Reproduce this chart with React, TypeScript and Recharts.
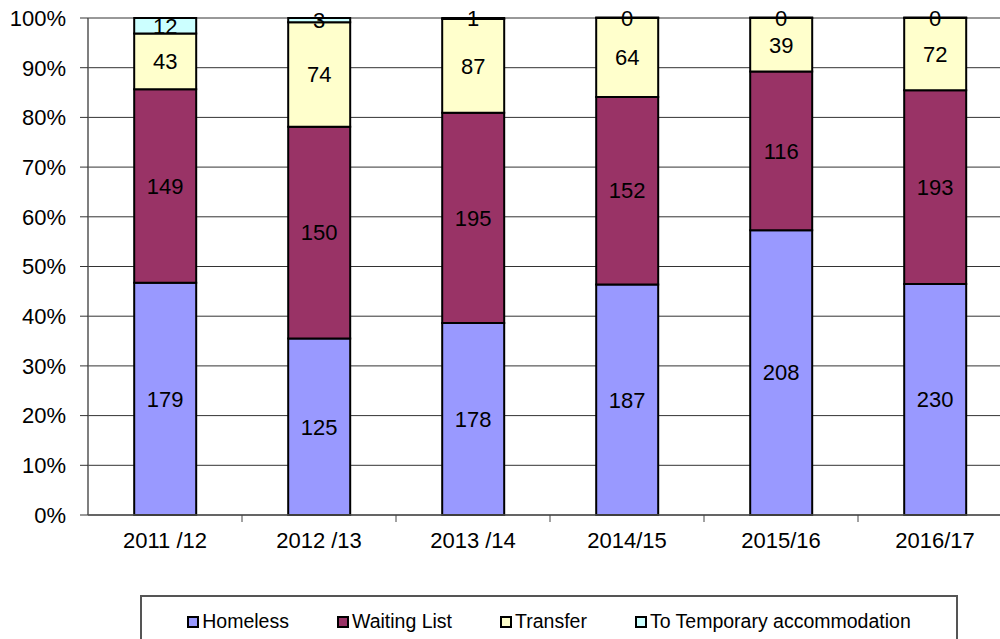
import React from 'react';
import {
  BarChart,
  Bar,
  XAxis,
  YAxis,
  CartesianGrid,
  LabelList,
} from 'recharts';

const CATEGORIES = ['2011 /12', '2012 /13', '2013 /14', '2014/15', '2015/16', '2016/17'];
const HOMELESS = [179, 125, 178, 187, 208, 230];
const WAITING_LIST = [149, 150, 195, 152, 116, 193];
const TRANSFER = [43, 74, 87, 64, 39, 72];
const TEMPORARY = [12, 3, 1, 0, 0, 0];
const Y_TICKS = [0, 0.1, 0.2, 0.3, 0.4, 0.5, 0.6, 0.7, 0.8, 0.9, 1];

const SERIES = [
  { key: 'homeless', name: 'Homeless', color: '#9999FF', values: HOMELESS },
  { key: 'waiting', name: 'Waiting List', color: '#993366', values: WAITING_LIST },
  { key: 'transfer', name: 'Transfer', color: '#FFFFCC', values: TRANSFER },
  { key: 'temporary', name: 'To Temporary accommodation', color: '#CCFFFF', values: TEMPORARY },
];

const data = CATEGORIES.map((name, i) => {
  const row: Record<string, string | number> = { name };
  SERIES.forEach((s) => {
    row[s.key] = s.values[i];
  });
  return row;
});

const FONT = '"Liberation Sans", Arial, sans-serif';
const CHART_W = 1020;
const MARGIN = { top: 18, right: 8, left: 0, bottom: 0 };
const Y_AXIS_W = 88;
const HALF_BAND = (CHART_W - MARGIN.right - MARGIN.left - Y_AXIS_W) / CATEGORIES.length / 2;

const XTick = (props: any) => {
  const { x, y, payload } = props;
  return (
    <g>
      <line x1={x + HALF_BAND} x2={x + HALF_BAND} y1={y} y2={y + 7} stroke="#444" strokeWidth={1} />
      <text x={x} y={y + 33} textAnchor="middle" fontSize={22} fontFamily={FONT} fill="#000">
        {payload.value}
      </text>
    </g>
  );
};

export default function App() {
  return (
    <div
      style={{
        position: 'absolute',
        left: 0,
        top: 0,
        width: 1000,
        height: 639,
        overflow: 'hidden',
        background: '#fff',
        fontFamily: FONT,
      }}
    >
      <BarChart
        width={CHART_W}
        height={639}
        data={data}
        stackOffset="expand"
        margin={MARGIN}
        barCategoryGap="30%"
      >
        <CartesianGrid vertical={false} stroke="#333" strokeWidth={1} />
        <XAxis
          dataKey="name"
          height={124}
          tickLine={false}
          tickSize={0}
          tickMargin={0}
          tick={<XTick />}
          axisLine={{ stroke: '#555', strokeWidth: 1.5 }}
          interval={0}
        />
        <YAxis
          width={Y_AXIS_W}
          domain={[0, 1]}
          ticks={Y_TICKS}
          tickFormatter={(v: number) => `${Math.round(v * 100)}%`}
          tickSize={8}
          tickMargin={14}
          tick={{ fontSize: 22, fontFamily: FONT, fill: '#000' }}
          axisLine={{ stroke: '#555', strokeWidth: 1.5 }}
          tickLine={{ stroke: '#333' }}
        />
        {SERIES.map((s) => (
          <Bar
            key={s.key}
            dataKey={s.key}
            name={s.name}
            stackId="a"
            fill={s.color}
            stroke="#000"
            strokeWidth={2}
            minPointSize={s.key === 'temporary' ? 0.5 : 0}
            isAnimationActive={false}
          >
            <LabelList
              dataKey={s.key}
              position="center"
              style={{ fontSize: 22, fontFamily: FONT, fill: '#000' }}
            />
          </Bar>
        ))}
      </BarChart>
      <div
        style={{
          position: 'absolute',
          left: 140,
          top: 595,
          width: 818,
          height: 60,
          border: '2px solid #555',
          boxSizing: 'border-box',
          display: 'flex',
          justifyContent: 'center',
          alignItems: 'flex-start',
          gap: 48,
          paddingTop: 13,
          fontSize: 19.5,
          color: '#000',
        }}
      >
        {SERIES.map((s) => (
          <div key={s.key} style={{ display: 'flex', alignItems: 'center' }}>
            <span
              style={{
                display: 'inline-block',
                width: 8,
                height: 8,
                border: '2px solid #000',
                background: s.color,
                marginRight: 3,
              }}
            />
            <span>{s.name}</span>
          </div>
        ))}
      </div>
    </div>
  );
}
